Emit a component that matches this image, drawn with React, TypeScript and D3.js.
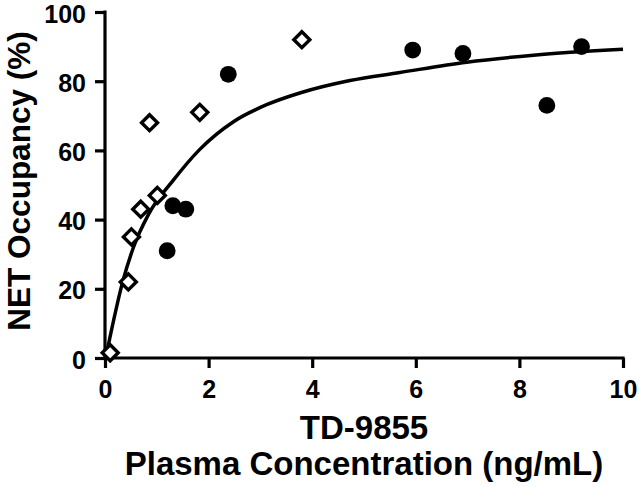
import React, { useEffect, useRef } from 'react';
import * as d3 from 'd3';

// filled circles
const circleX = [1.2, 1.31, 1.56, 2.38, 5.94, 6.91, 8.53, 9.2];
const circleY = [31, 44, 43, 82, 89, 88, 73, 90];

// open diamonds
const diamondX = [0.1, 0.45, 0.51, 0.69, 0.86, 1.01, 1.83, 3.8];
const diamondY = [1.5, 22, 35, 43, 68, 47, 71, 92];

// fitted curve
const curveX = [0.04, 0.35, 0.55, 0.84, 1.32, 1.83, 2.48, 3.12, 3.76, 4.73, 5.69, 6.98, 8.27, 10];
const curveY = [2, 22.5, 32, 41.5, 51.4, 60.3, 68.3, 73.2, 76.6, 80.2, 82.5, 85.5, 87.5, 89.2];

const xTicks = [0, 2, 4, 6, 8, 10];
const yTicks = [0, 20, 40, 60, 80, 100];

const FONT = '"Liberation Sans", Arial, sans-serif';

export default function App() {
  const svgRef = useRef<SVGSVGElement>(null);

  useEffect(() => {
    if (!svgRef.current) return;
    const svg = d3.select(svgRef.current);
    svg.selectAll('*').remove();

    const x = d3.scaleLinear().domain([0, 10]).range([105, 623]);
    const y = d3.scaleLinear().domain([0, 100]).range([358, 12]);

    // curve
    const line = d3
      .line<number>()
      .x((d, i) => x(curveX[i]))
      .y((d, i) => y(curveY[i]))
      .curve(d3.curveMonotoneX);

    svg.append('path')
      .datum(curveY)
      .attr('fill', 'none')
      .attr('stroke', '#000')
      .attr('stroke-width', 3.5)
      .attr('d', line);

    // axes
    const xAxis = svg.append('g')
      .attr('transform', `translate(0,${y(0)})`)
      .call(d3.axisBottom(x).tickValues(xTicks).tickSize(10).tickPadding(12).tickFormat(d3.format('d')));
    const yAxis = svg.append('g')
      .attr('transform', `translate(${x(0)},0)`)
      .call(d3.axisLeft(y).tickValues(yTicks).tickSize(10).tickPadding(9).tickFormat(d3.format('d')));

    [xAxis, yAxis].forEach((a) => {
      a.select('.domain').attr('stroke', '#000').attr('stroke-width', 3.2);
      a.selectAll('.tick line').attr('stroke', '#000').attr('stroke-width', 3.2);
      a.selectAll('.tick text')
        .attr('fill', '#000')
        .style('font-family', FONT)
        .style('font-weight', 'bold')
        .style('font-size', '25px');
    });
    // labels sit a touch below their ticks in the original
    yAxis.selectAll('.tick text').attr('dy', '0.4em');

    // square off the axis ends (no outer ticks)
    xAxis.select('.domain').attr('d', `M${x(0) - 1.6},0H${x(10) + 1.6}`);
    yAxis.select('.domain').attr('d', `M0,${y(0) + 1.6}V${y(100) - 1.6}`);

    // diamonds
    svg.append('g')
      .selectAll('path')
      .data(diamondX)
      .enter()
      .append('path')
      .attr('transform', (d, i) => `translate(${x(d)},${y(diamondY[i])})`)
      .attr('d', 'M0,-8L8,0L0,8L-8,0Z')
      .attr('fill', '#fff')
      .attr('stroke', '#000')
      .attr('stroke-width', 3.4);

    // circles
    svg.append('g')
      .selectAll('circle')
      .data(circleX)
      .enter()
      .append('circle')
      .attr('cx', (d) => x(d))
      .attr('cy', (d, i) => y(circleY[i]))
      .attr('r', 8.4)
      .attr('fill', '#000');

    // titles
    svg.append('text')
      .attr('transform', `translate(30,181) rotate(-90)`)
      .attr('text-anchor', 'middle')
      .style('font-family', FONT)
      .style('font-weight', 'bold')
      .style('font-size', '31.5px')
      .text('NET Occupancy (%)');

    svg.append('text')
      .attr('x', 364)
      .attr('y', 439)
      .attr('text-anchor', 'middle')
      .style('font-family', FONT)
      .style('font-weight', 'bold')
      .style('font-size', '33px')
      .text('TD-9855');

    svg.append('text')
      .attr('x', 364)
      .attr('y', 475)
      .attr('text-anchor', 'middle')
      .style('font-family', FONT)
      .style('font-weight', 'bold')
      .style('font-size', '33px')
      .text('Plasma Concentration (ng/mL)');
  }, []);

  return (
    <svg
      ref={svgRef}
      width={640}
      height={487}
      style={{ position: 'absolute', left: 0, top: 0, background: '#fff' }}
    />
  );
}
